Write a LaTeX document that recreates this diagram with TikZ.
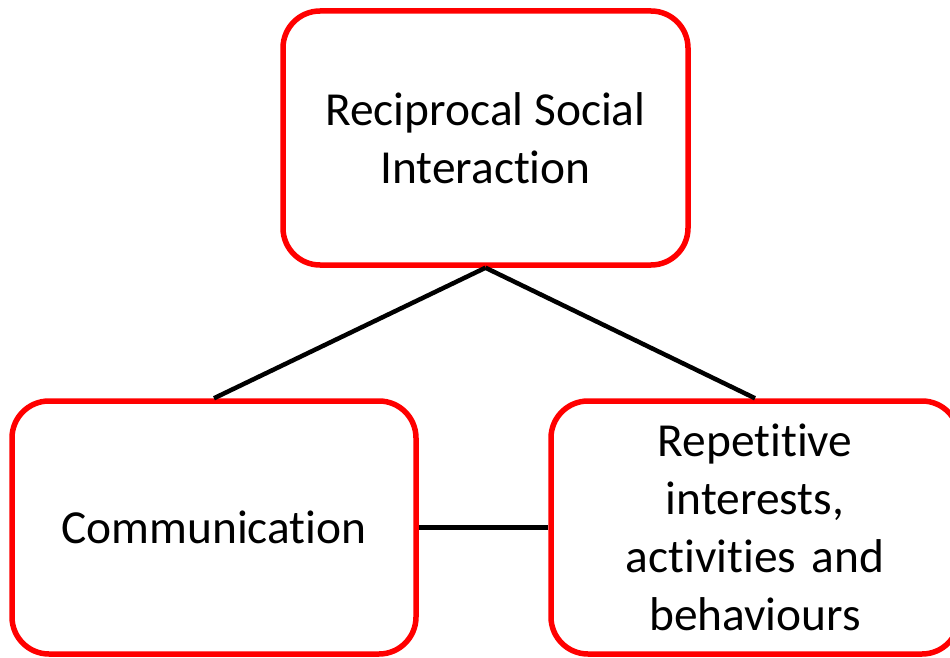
\documentclass[tikz,border=0pt]{standalone}
\usepackage{fontspec}
\setmainfont{Carlito}[Ligatures=NoCommon]
\begin{document}
\begin{tikzpicture}[x=1pt,y=-1pt,
  box/.style={draw=red, line width=5.5pt, rounded corners=37pt, fill=white,
    inner sep=0pt, align=center, font=\fontsize{47.4}{58}\selectfont},
  link/.style={draw=black, line width=4.5pt}]
\useasboundingbox (0,0) rectangle (950,658);
% three domains
\node[box, minimum width=405pt, minimum height=254pt] (rsi) at (485.5,138)
  {Reciprocal Social\\Interaction};
\node[box, minimum width=404pt, minimum height=253pt] (comm) at (214,527.5)
  {Communication};
\node[box, minimum width=408pt, minimum height=253pt, text width=300pt] (rep) at (755,527.5)
  {Repetitive\\interests,\\activities and\\behaviours};
% connections between domains
\draw[link] (rsi.south) -- (comm.north);
\draw[link] (rsi.south) -- (rep.north);
\draw[link] (comm.east) -- (rep.west);
\end{tikzpicture}
\end{document}
